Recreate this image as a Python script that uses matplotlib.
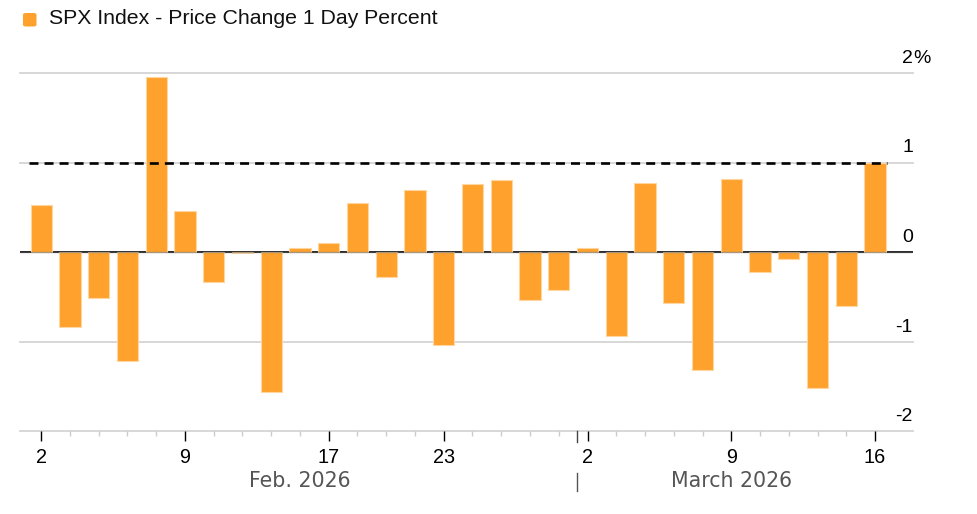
import matplotlib
matplotlib.use("Agg")
import matplotlib.pyplot as plt
from matplotlib.patches import FancyBboxPatch
import matplotlib.transforms as mtransforms

# ---- data ----
dates = ["Feb 2", "Feb 3", "Feb 4", "Feb 5", "Feb 6",
         "Feb 9", "Feb 10", "Feb 11", "Feb 12", "Feb 13",
         "Feb 17", "Feb 18", "Feb 19", "Feb 20",
         "Feb 23", "Feb 24", "Feb 25", "Feb 26", "Feb 27",
         "Mar 2", "Mar 3", "Mar 4", "Mar 5", "Mar 6",
         "Mar 9", "Mar 10", "Mar 11", "Mar 12", "Mar 13",
         "Mar 16"]
pct_change = [0.53, -0.84, -0.51, -1.22, 1.96,
              0.46, -0.33, -0.01, -1.56, 0.04,
              0.10, 0.55, -0.28, 0.69,
              -1.04, 0.76, 0.80, -0.54, -0.43,
              0.04, -0.94, 0.77, -0.57, -1.32,
              0.82, -0.22, -0.08, -1.52, -0.60,
              1.00]
major_tick_idx = [0, 5, 10, 14, 19, 24, 29]
major_tick_labels = ["2", "9", "17", "23", "2", "9", "16"]
y_ticks = [2, 1, 0, -1, -2]
y_tick_labels = ["2", "1", "0", "-1", "-2"]
months = ["Feb. 2026", "March 2026"]
month_ranges = [(0, 18), (19, 29)]
reference_level = 1.0
series_name = "SPX Index - Price Change 1 Day Percent"

W, H = 977, 514
DPI = 100
fig = plt.figure(figsize=(W / DPI, H / DPI), dpi=DPI)
fig.patch.set_facecolor("white")

ax_left, ax_right, ax_top, ax_bottom = 20, 913, 73, 431
ax = fig.add_axes([ax_left / W, 1 - ax_bottom / H,
                   (ax_right - ax_left) / W, (ax_bottom - ax_top) / H])
ax.set_facecolor("white")

n = len(pct_change)
x = list(range(n))
ax.set_xlim(-0.737, 30.32)
ax.set_ylim(-2, 2)
for s in ax.spines.values():
    s.set_visible(False)

ORANGE = "#FFA22D"
# gridlines
for yv in y_ticks:
    if yv == 0:
        continue
    ax.axhline(yv, color="#d4d4d4", lw=1.3, zorder=0, clip_on=False)
ax.axhline(0, color="black", lw=1.2, zorder=1)

ax.bar(x, pct_change, width=0.74, color=ORANGE, edgecolor="#FFD6A0",
       linewidth=0.8, zorder=2)
ax.axhline(0, color="#555555", lw=1.0, alpha=0.5, zorder=3)

# reference dashed line
ax.plot([-0.41, n - 1 + 0.41], [reference_level, reference_level],
        color="black", lw=1.9, dashes=(3.4, 2.3), zorder=4,
        solid_capstyle="butt", dash_capstyle="butt")

# x ticks
ax.set_xticks(major_tick_idx)
ax.set_xticklabels(major_tick_labels)
ax.set_xticks([i for i in x if i not in major_tick_idx], minor=True)
ax.tick_params(axis="x", which="major", length=7.5, width=1.0, color="black",
               pad=4.5, labelsize=14.3, labelcolor="black")
ax.tick_params(axis="x", which="minor", length=3.6, width=1.0, color="#cccccc")
for lab in ax.get_xticklabels():
    lab.set_family(["Liberation Sans", "DejaVu Sans"])
ax.set_yticks([])

# y labels on right, above gridlines
trans_y = mtransforms.blended_transform_factory(
    fig.transFigure, ax.transData)
off = mtransforms.ScaledTranslation(0, 10 / DPI, fig.dpi_scale_trans)
for yv, lab in zip(y_ticks, y_tick_labels):
    ax.text(913 / W, yv, lab, transform=trans_y + off, ha="right",
            va="baseline", fontsize=14, family=["Liberation Sans", "DejaVu Sans"],
            color="black", clip_on=False)
    if yv == 2:
        ax.text(913 / W, yv, "%", transform=trans_y + off, ha="left",
                va="baseline", fontsize=14,
                family=["Liberation Sans", "DejaVu Sans"],
                color="black", clip_on=False)

# month labels and separator
trans_x = mtransforms.blended_transform_factory(ax.transData, fig.transFigure)
for name, (a, b) in zip(months, month_ranges):
    ax.text((a + b) / 2, 1 - 481 / H, name, transform=trans_x, ha="center",
            va="center", fontsize=14.8, family="DejaVu Sans", color="#555555",
            clip_on=False)
sep = 18.62
ax.plot([sep, sep], [1 - 431 / H, 1 - 442 / H], transform=trans_x,
        color="#444444", lw=1.0, clip_on=False)
ax.plot([sep, sep], [1 - 473 / H, 1 - 491 / H], transform=trans_x,
        color="#555555", lw=1.0, clip_on=False)

# legend / title
sq = FancyBboxPatch((23 / W, 1 - 26.5 / H), 13.5 / W, 13.5 / H,
                    boxstyle="round,pad=0,rounding_size=0.003",
                    transform=fig.transFigure, facecolor=ORANGE,
                    edgecolor="none")
fig.patches.append(sq)
fig.text(49 / W, 1 - 19 / H, series_name, ha="left", va="center",
         fontsize=15.3, family=["Liberation Sans", "DejaVu Sans"],
         color="#111111")

fig.savefig("out.png", dpi=DPI, facecolor="white")
